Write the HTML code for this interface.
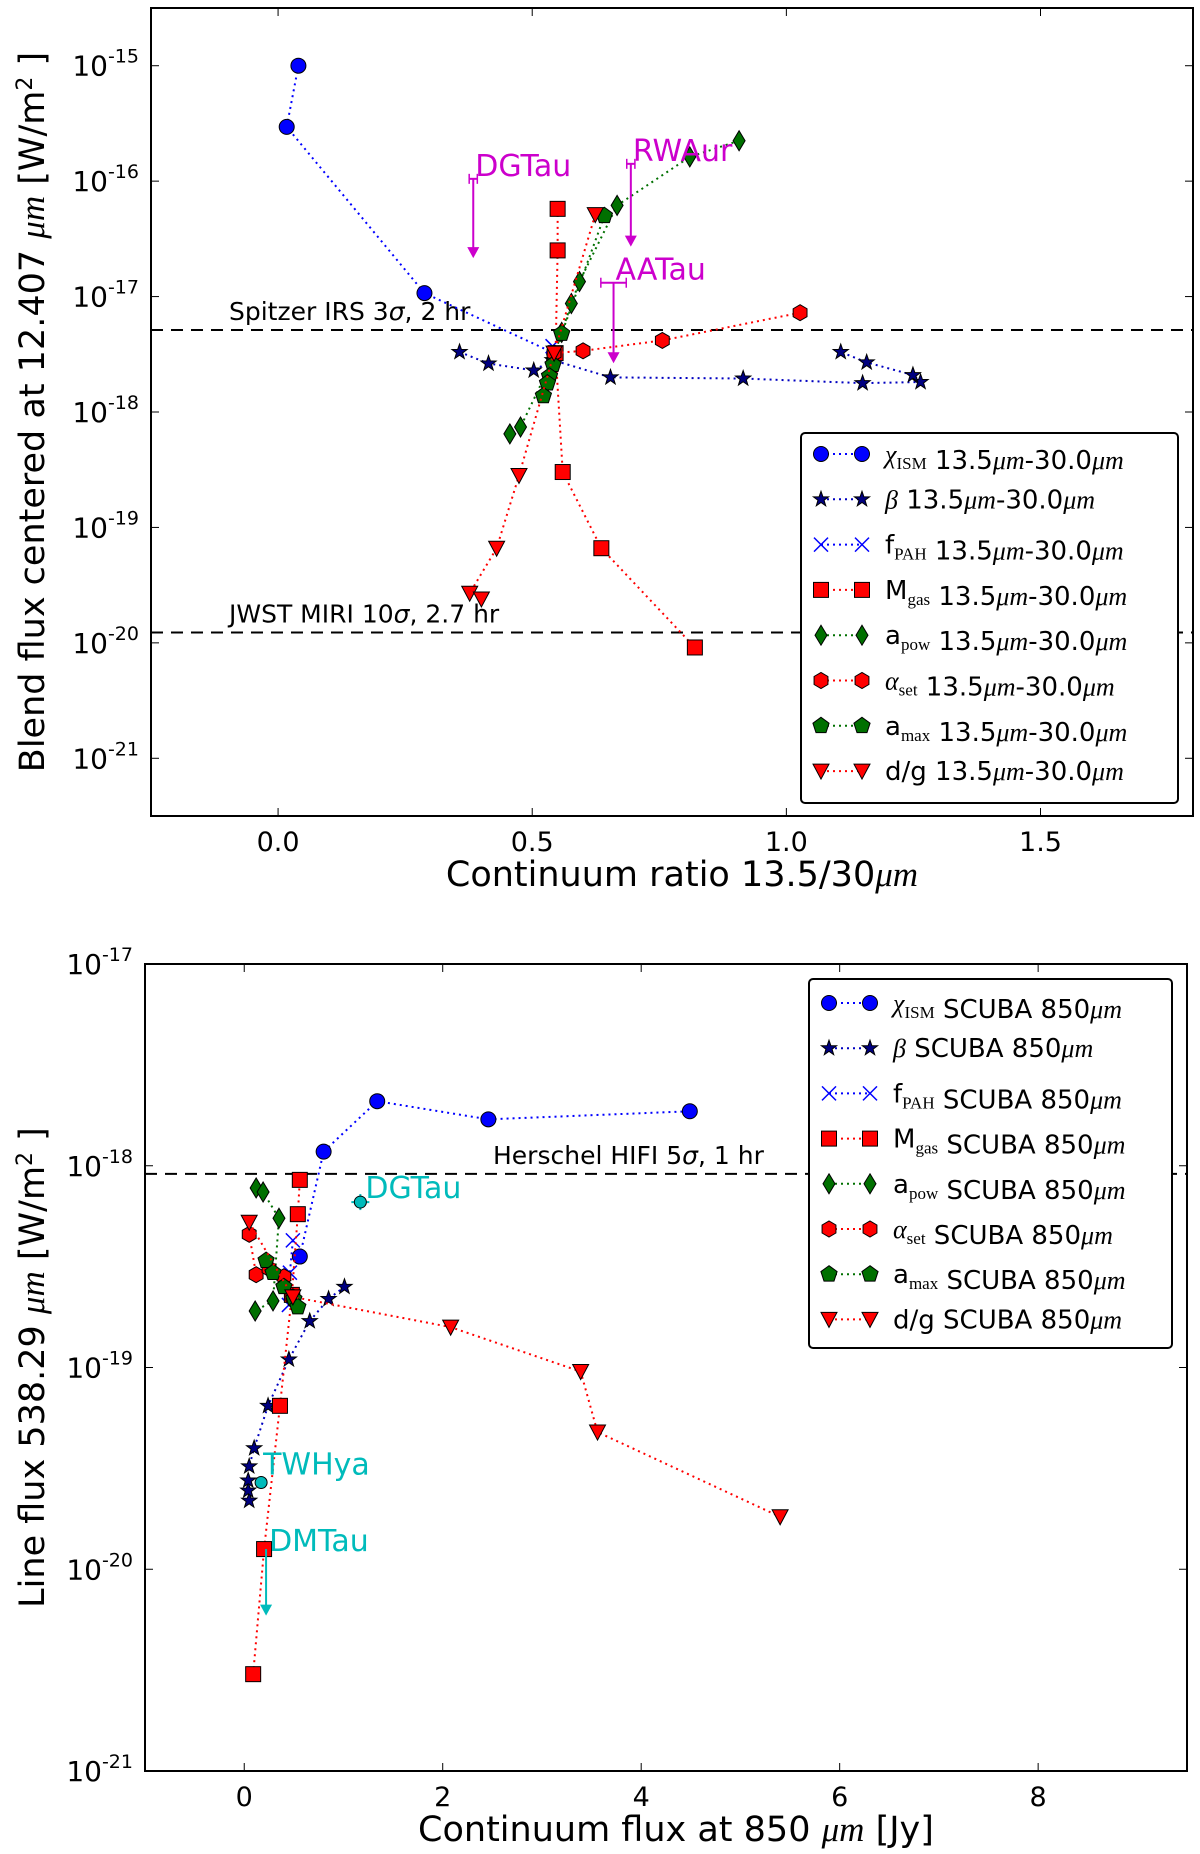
<!DOCTYPE html>
<html><head><meta charset="utf-8"><style>
body{margin:0;background:#fff}
svg{display:block;font-family:"DejaVu Sans","Liberation Sans",sans-serif}
</style></head><body>
<svg id="fig" width="1200" height="1854" viewBox="0 0 1200 1854" xmlns="http://www.w3.org/2000/svg"></svg>
<script>
// ---------- TOP PANEL DATA (x: continuum ratio, y: log10 flux) ----------
const topXTicks = [0.0, 0.5, 1.0, 1.5];
const topXTickLabels = ["0.0","0.5","1.0","1.5"];
const topYTicks = [-21,-20,-19,-18,-17,-16,-15];
const tChiX = [0.04,0.017,0.288,0.543];
const tChiY = [-15.0,-15.53,-16.97,-17.49];
const tBetaX = [0.357,0.414,0.503,0.54,0.654,0.915,1.150,1.264,1.249,1.158,1.107];
const tBetaY = [-17.48,-17.58,-17.64,-17.55,-17.70,-17.71,-17.75,-17.74,-17.68,-17.57,-17.48];
const tPahX = [0.54,0.545];
const tPahY = [-17.43,-17.50];
const tMgasX = [0.55,0.55,0.546,0.56,0.636,0.82];
const tMgasY = [-16.24,-16.60,-17.49,-18.52,-19.18,-20.04];
const tApowX = [0.907,0.81,0.667,0.593,0.577,0.558,0.54,0.477,0.456];
const tApowY = [-15.65,-15.79,-16.21,-16.87,-17.06,-17.31,-17.55,-18.13,-18.19];
const tAsetX = [1.027,0.756,0.60,0.543];
const tAsetY = [-17.14,-17.38,-17.47,-17.49];
const tAmaxX = [0.642,0.558,0.541,0.534,0.53,0.522];
const tAmaxY = [-16.30,-17.32,-17.59,-17.69,-17.75,-17.86];
const tDgX = [0.624,0.543,0.474,0.43,0.377,0.40];
const tDgY = [-16.29,-17.49,-18.55,-19.18,-19.57,-19.62];
const tSpitzer = -17.29, tJwst = -19.91;

// ---------- BOTTOM PANEL DATA (x: 850um flux Jy, y: log10 flux) ----------
const botXTicks = [0,2,4,6,8];
const botYTicks = [-21,-20,-19,-18,-17];
const bChiX = [0.56,0.80,1.34,2.46,4.49];
const bChiY = [-18.45,-17.93,-17.68,-17.77,-17.73];
const bBetaX = [0.05,0.04,0.04,0.05,0.10,0.24,0.45,0.66,0.85,1.01];
const bBetaY = [-19.66,-19.61,-19.56,-19.49,-19.40,-19.19,-18.96,-18.77,-18.66,-18.60];
const bPahX = [0.49,0.46,0.45];
const bPahY = [-18.37,-18.53,-18.69];
const bMgasX = [0.09,0.20,0.36,0.48,0.54,0.56];
const bMgasY = [-20.52,-19.90,-19.19,-18.64,-18.24,-18.07];
const bApowX = [0.12,0.19,0.35,0.29,0.11];
const bApowY = [-18.11,-18.13,-18.26,-18.67,-18.72];
const bAsetX = [0.05,0.12,0.25,0.40,0.49];
const bAsetY = [-18.34,-18.54,-18.51,-18.55,-18.65];
const bAmaxX = [0.22,0.29,0.40,0.50,0.54];
const bAmaxY = [-18.47,-18.53,-18.60,-18.66,-18.70];
const bDgX = [0.05,0.49,2.08,3.39,3.56,5.40];
const bDgY = [-18.28,-18.65,-18.80,-19.02,-19.32,-19.74];
const bHerschel = -18.04;

const NS="http://www.w3.org/2000/svg";
const svg=document.getElementById('fig');
function mk(tag,attrs,parent){const e=document.createElementNS(NS,tag);for(const k in attrs)e.setAttribute(k,attrs[k]);(parent||svg).appendChild(e);return e;}

function panel(name,L,R,T,B,x0,x1,y0,y1){
  const g=mk('g',{});
  
  
  return {g,sx:v=>L+(v-x0)/(x1-x0)*(R-L),sy:v=>B-(v-y0)/(y1-y0)*(B-T),L,R,T,B};
}
function marker(p,type,x,y,fill,parent){
  let e;
  if(type==='circle')e=mk('circle',{cx:x,cy:y,r:7.5},parent);
  else if(type==='square')e=mk('rect',{x:x-7.5,y:y-7.5,width:15,height:15},parent);
  else{
    let pts=[];
    if(type==='diamond')pts=[[0,-10],[6,0],[0,10],[-6,0]];
    else if(type==='tri')pts=[[-8,-7],[8,-7],[0,8]];
    else if(type==='hex'){for(let i=0;i<6;i++){const a=Math.PI/3*i+Math.PI/6;pts.push([8*Math.cos(a),8*Math.sin(a)]);}}
    else if(type==='pent'){for(let i=0;i<5;i++){const a=-Math.PI/2+2*Math.PI/5*i;pts.push([8.5*Math.cos(a),8.5*Math.sin(a)]);}}
    else if(type==='star'){for(let i=0;i<10;i++){const a=-Math.PI/2+Math.PI/5*i;const r=i%2?3.2:8;pts.push([r*Math.cos(a),r*Math.sin(a)]);}}
    else if(type==='x'){
      const gg=mk('g',{},parent);
      mk('line',{x1:x-7,y1:y-7,x2:x+7,y2:y+7,stroke:fill,'stroke-width':1.5},gg);
      mk('line',{x1:x-7,y1:y+7,x2:x+7,y2:y-7,stroke:fill,'stroke-width':1.5},gg);
      return gg;
    }
    e=mk('polygon',{points:pts.map(q=>(x+q[0])+','+(y+q[1])).join(' ')},parent);
  }
  e.setAttribute('fill',fill);e.setAttribute('stroke','#000');e.setAttribute('stroke-width',1);
  return e;
}
function series(p,name,xs,ys,type,fill,lc){
  const g=mk('g',{},p.g);
  
  
  const pts=xs.map((x,i)=>p.sx(x)+','+p.sy(ys[i])).join(' ');
  mk('polyline',{points:pts,fill:'none',stroke:lc,'stroke-width':2,'stroke-dasharray':'2,4'},g);
  xs.forEach((x,i)=>{const m=marker(p,type,p.sx(x),p.sy(ys[i]),fill,g);
    
    });
}
function frame(p,xt,xl,yt,xtitle,ytitle){
  const g=p.g;
  mk('rect',{x:p.L,y:p.T,width:p.R-p.L,height:p.B-p.T,fill:'none',stroke:'#000','stroke-width':2},g);
  xt.forEach((v,i)=>{const x=p.sx(v);
    mk('line',{x1:x,y1:p.B,x2:x,y2:p.B-8,stroke:'#000','stroke-width':1},g);
    mk('line',{x1:x,y1:p.T,x2:x,y2:p.T+8,stroke:'#000','stroke-width':1},g);
    const t=mk('text',{x:x,y:p.B+35,'font-size':27,'text-anchor':'middle'},g);t.textContent=xl[i];
    
    });
  yt.forEach(v=>{const y=p.sy(v);
    mk('line',{x1:p.L,y1:y,x2:p.L+8,y2:y,stroke:'#000','stroke-width':1},g);
    mk('line',{x1:p.R,y1:y,x2:p.R-8,y2:y,stroke:'#000','stroke-width':1},g);
    const t=mk('text',{x:p.L-12,y:y+10,'font-size':28,'text-anchor':'end'},g);
    
    
    t.innerHTML='10<tspan dy="-13" font-size="19">'+v+'</tspan>';});
  const xtt=mk('text',{x:(p.L+p.R)/2+10,y:p.B+70,'font-size':35,'text-anchor':'middle'},g);xtt.innerHTML=xtitle;
  
  
  const ytt=mk('text',{x:0,y:0,'font-size':35,'text-anchor':'middle',transform:'translate(44,'+((p.T+p.B)/2)+') rotate(-90)'},g);ytt.innerHTML=ytitle;
  
  
}
function hline(p,v,label,lx,name){
  const g=mk('g',{},p.g);
  
  
  const y=p.sy(v);
  mk('line',{x1:p.L,y1:y,x2:p.R,y2:y,stroke:'#000','stroke-width':2,'stroke-dasharray':'12,8'},g);
  const t=mk('text',{x:lx,y:y-10,'font-size':25},g);t.innerHTML=label;
}
function legend(p,x,y,w,h,step,off,entries,suffix,name){
  const g=mk('g',{},p.g);
  
  
  mk('rect',{x:x,y:y,width:w,height:h,rx:4,fill:'#fff',stroke:'#000','stroke-width':2},g);
  entries.forEach((e,i)=>{const cy=y+off+i*step;
    const eg=mk('g',{},g);
    
    
    mk('line',{x1:x+20,y1:cy,x2:x+61,y2:cy,stroke:e[3],'stroke-width':2,'stroke-dasharray':'2,4'},eg);
    marker(p,e[1],x+20,cy,e[2],eg);marker(p,e[1],x+61,cy,e[2],eg);
    const t=mk('text',{x:x+84,y:cy+9,'font-size':26},eg);t.innerHTML=e[0]+suffix;});
}
function annot(p,x,ytop,ybot,label,col,name,errx){
  const g=mk('g',{},p.g);
  
  
  const X=p.sx(x),Y1=p.sy(ytop),Y2=p.sy(ybot);
  mk('line',{x1:X,y1:Y1,x2:X,y2:Y2-8,stroke:col,'stroke-width':2},g);
  mk('polygon',{points:(X-6)+','+(Y2-9)+' '+(X+6)+','+(Y2-9)+' '+X+','+(Y2+2),fill:col},g);
  const ex=errx||0.008;
  mk('line',{x1:p.sx(x-ex),y1:Y1,x2:p.sx(x+ex),y2:Y1,stroke:col,'stroke-width':2},g);
  mk('line',{x1:p.sx(x-ex),y1:Y1-5,x2:p.sx(x-ex),y2:Y1+5,stroke:col,'stroke-width':1.5},g);
  mk('line',{x1:p.sx(x+ex),y1:Y1-5,x2:p.sx(x+ex),y2:Y1+5,stroke:col,'stroke-width':1.5},g);
  const t=mk('text',{x:X+2,y:Y1-3,'font-size':30,fill:col},g);t.textContent=label;
}

// ---------- TOP PANEL ----------
const P1=panel('top-panel',151,1193,8,816,-0.25,1.8,-21.5,-14.5);
frame(P1,topXTicks,topXTickLabels,topYTicks,'Continuum ratio 13.5/30<tspan font-family="Liberation Serif" font-style="italic">μm</tspan>',
 'Blend flux centered at 12.407 <tspan font-family="Liberation Serif" font-style="italic">μm</tspan> [W/m<tspan dy="-12" font-size="22">2</tspan><tspan dy="12"> ]</tspan>');
hline(P1,tSpitzer,'Spitzer IRS 3<tspan font-style="italic">σ</tspan>, 2 hr',229,'spitzer-limit-line');
hline(P1,tJwst,'JWST MIRI 10<tspan font-style="italic">σ</tspan>, 2.7 hr',229,'jwst-limit-line');
series(P1,'chi-ism-series',tChiX,tChiY,'circle','#0000ff','#0000ff');
series(P1,'beta-series',tBetaX,tBetaY,'star','#000080','#0000c0');
series(P1,'fpah-series',tPahX,tPahY,'x','#0000ff','#0000ff');
series(P1,'mgas-series',tMgasX,tMgasY,'square','#ff0000','#ff0000');
series(P1,'apow-series',tApowX,tApowY,'diamond','#007000','#007000');
series(P1,'aset-series',tAsetX,tAsetY,'hex','#ff0000','#ff0000');
series(P1,'amax-series',tAmaxX,tAmaxY,'pent','#007000','#007000');
series(P1,'dg-series',tDgX,tDgY,'tri','#ff0000','#ff0000');
annot(P1,0.384,-15.98,-16.65,'DGTau','#cc00cc','dgtau-upper-limit');
annot(P1,0.694,-15.85,-16.55,'RWAur','#cc00cc','rwaur-upper-limit');
annot(P1,0.66,-16.88,-17.56,'AATau','#cc00cc','aatau-upper-limit',0.025);
const symT=' 13.5<tspan font-family="Liberation Serif" font-style="italic">μm</tspan>-30.0<tspan font-family="Liberation Serif" font-style="italic">μm</tspan>';
const legEntries=[
 ['<tspan font-family="Liberation Serif" font-style="italic">χ</tspan><tspan font-family="Liberation Serif" font-size="17" dy="6">ISM</tspan><tspan dy="-6"></tspan>','circle','#0000ff','#0000ff'],
 ['<tspan font-family="Liberation Serif" font-style="italic">β</tspan>','star','#000080','#0000c0'],
 ['f<tspan font-family="Liberation Serif" font-size="17" dy="6">PAH</tspan><tspan dy="-6"></tspan>','x','#0000ff','#0000ff'],
 ['M<tspan font-family="Liberation Serif" font-size="17" dy="6">gas</tspan><tspan dy="-6"></tspan>','square','#ff0000','#ff0000'],
 ['a<tspan font-family="Liberation Serif" font-size="17" dy="6">pow</tspan><tspan dy="-6"></tspan>','diamond','#007000','#007000'],
 ['<tspan font-family="Liberation Serif" font-style="italic">α</tspan><tspan font-family="Liberation Serif" font-size="17" dy="6">set</tspan><tspan dy="-6"></tspan>','hex','#ff0000','#ff0000'],
 ['a<tspan font-family="Liberation Serif" font-size="17" dy="6">max</tspan><tspan dy="-6"></tspan>','pent','#007000','#007000'],
 ['d/g','tri','#ff0000','#ff0000']];
legend(P1,801,433,377,370,45.3,21,legEntries,symT,'top-legend');

// ---------- BOTTOM PANEL ----------
const P2=panel('bottom-panel',145,1187,964,1771,-1,9.5,-21,-17);
frame(P2,botXTicks,botXTicks.map(String),botYTicks,'Continuum flux at 850 <tspan font-family="Liberation Serif" font-style="italic">μm</tspan> [Jy]',
 'Line flux 538.29 <tspan font-family="Liberation Serif" font-style="italic">μm</tspan> [W/m<tspan dy="-12" font-size="22">2</tspan><tspan dy="12"> ]</tspan>');
hline(P2,bHerschel,'Herschel HIFI 5<tspan font-style="italic">σ</tspan>, 1 hr',493,'herschel-limit-line');
series(P2,'chi-ism-series',bChiX,bChiY,'circle','#0000ff','#0000ff');
series(P2,'beta-series',bBetaX,bBetaY,'star','#000080','#0000c0');
series(P2,'fpah-series',bPahX,bPahY,'x','#0000ff','#0000ff');
series(P2,'mgas-series',bMgasX,bMgasY,'square','#ff0000','#ff0000');
series(P2,'apow-series',bApowX,bApowY,'diamond','#007000','#007000');
series(P2,'aset-series',bAsetX,bAsetY,'hex','#ff0000','#ff0000');
series(P2,'amax-series',bAmaxX,bAmaxY,'pent','#007000','#007000');
series(P2,'dg-series',bDgX,bDgY,'tri','#ff0000','#ff0000');
(function(){
  const cy='#00bbbb';
  const g=mk('g',{},P2.g);
  
  
  let x=P2.sx(1.17),y=P2.sy(-18.18);
  mk('line',{x1:x-9,y1:y,x2:x+9,y2:y,stroke:cy,'stroke-width':2},g);
  mk('line',{x1:x,y1:y-8,x2:x,y2:y+8,stroke:cy,'stroke-width':2},g);
  mk('circle',{cx:x,cy:y,r:6,fill:cy,stroke:'#000','stroke-width':1},g);
  let t=mk('text',{x:x+5,y:y-4,'font-size':30,fill:cy},g);t.textContent='DGTau';
  x=P2.sx(0.17);y=P2.sy(-19.57);
  mk('circle',{cx:x,cy:y,r:6,fill:cy,stroke:'#000','stroke-width':1},g);
  t=mk('text',{x:x+2,y:y-8,'font-size':30,fill:cy},g);t.textContent='TWHya';
  x=P2.sx(0.22);const y1=P2.sy(-19.90),y2=P2.sy(-20.22);
  mk('line',{x1:x,y1:y1,x2:x,y2:y2-8,stroke:cy,'stroke-width':2},g);
  mk('polygon',{points:(x-6)+','+(y2-9)+' '+(x+6)+','+(y2-9)+' '+x+','+(y2+2),fill:cy},g);
  t=mk('text',{x:x+3,y:y1+2,'font-size':30,fill:cy},g);t.textContent='DMTau';
})();
const symB=' SCUBA 850<tspan font-family="Liberation Serif" font-style="italic">μm</tspan>';
legend(P2,809,979,363,369,45.2,24,legEntries,symB,'bottom-legend');
</script>
</body></html>
